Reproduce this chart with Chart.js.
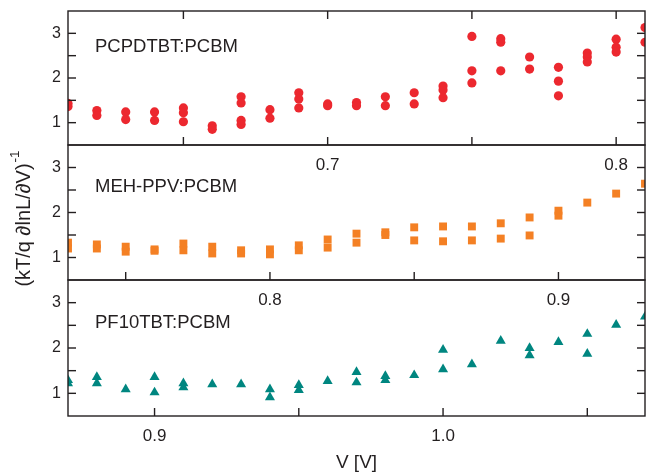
<!DOCTYPE html>
<html>
<head>
<meta charset="utf-8">
<script src="https://cdn.jsdelivr.net/npm/chart.js@4"></script>
<style>
  body { margin: 0; background: #fff; }
  #wrap { position: relative; width: 653px; height: 472px; }
  #wrap canvas { position: absolute; left: 0; top: 0; }
</style>
</head>
<body>
<div id="wrap">
  <canvas id="pcpdtbt" width="653" height="472"></canvas>
  <canvas id="mehppv" width="653" height="472"></canvas>
  <canvas id="pf10tbt" width="653" height="472"></canvas>
</div>
<script>
// voltages and the (kT/q dlnL/dV)^-1 values measured at each one
const voltsPCPDTBT = [0.61, 0.62, 0.63, 0.64, 0.65, 0.66, 0.67, 0.68, 0.69, 0.70, 0.71,
                      0.72, 0.73, 0.74, 0.75, 0.76, 0.77, 0.78, 0.79, 0.80, 0.81];
const valsPCPDTBT = [
  [1.43, 1.36], [1.27, 1.16], [1.24, 1.07], [1.24, 1.05], [1.33, 1.22, 1.02],
  [0.93, 0.85], [1.58, 1.44, 1.05, 0.96], [1.29, 1.10], [1.67, 1.53, 1.33],
  [1.42, 1.38], [1.45, 1.38], [1.58, 1.38], [1.67, 1.42], [1.82, 1.73, 1.56],
  [2.93, 2.16, 1.89], [2.88, 2.80, 2.16], [2.47, 2.20], [2.24, 1.93, 1.60],
  [2.56, 2.47, 2.36], [2.87, 2.69, 2.58], [3.13, 2.80]
];

const voltsMEHPPV = [0.73, 0.74, 0.75, 0.76, 0.77, 0.78, 0.79, 0.80, 0.81, 0.82, 0.83,
                     0.84, 0.85, 0.86, 0.87, 0.88, 0.89, 0.90, 0.91, 0.92, 0.93];
const valsMEHPPV = [
  [1.33, 1.20], [1.29, 1.20], [1.24, 1.13], [1.18, 1.15], [1.31, 1.16],
  [1.24, 1.09], [1.16, 1.09], [1.18, 1.07], [1.27, 1.16], [1.40, 1.22],
  [1.53, 1.33], [1.56, 1.50], [1.67, 1.38], [1.69, 1.36], [1.69, 1.38],
  [1.76, 1.42], [1.89, 1.49], [2.04, 1.93], [2.22], [2.42], [2.64]
];

const voltsPF10TBT = [0.87, 0.88, 0.89, 0.90, 0.91, 0.92, 0.93, 0.94, 0.95, 0.96, 0.97,
                      0.98, 0.99, 1.00, 1.01, 1.02, 1.03, 1.04, 1.05, 1.06, 1.07];
const valsPF10TBT = [
  [1.29, 1.22], [1.36, 1.22], [1.09], [1.36, 1.02], [1.22, 1.13], [1.20], [1.20],
  [1.09, 0.91], [1.18, 1.07], [1.27], [1.47, 1.24], [1.38, 1.29], [1.40],
  [1.96, 1.53], [1.64], [2.16], [2.00, 1.84], [2.13], [2.31, 1.87], [2.51], [2.69]
];

// axis ranges, labelled ticks and tick marks
const xRangePCPDTBT = [0.61, 0.81];
const xRangeMEHPPV = [0.73, 0.93];
const xRangePF10TBT = [0.87, 1.07];
const xLabelsPCPDTBT = [0.7, 0.8];
const xLabelsMEHPPV = [0.8, 0.9];
const xLabelsPF10TBT = [0.9, 1.0];
const xMarksPCPDTBT = [0.65, 0.70, 0.75, 0.80];
const xMarksMEHPPV = [0.75, 0.80, 0.85, 0.90];
const xMarksPF10TBT = [0.90, 0.95, 1.00, 1.05];
const yRange = [0.5, 3.5];
const yLabels = [1, 2, 3];
const yMarks = [1, 1.5, 2, 2.5, 3];

const INK = '#231f20';
const FONT = "'Liberation Sans', Arial, sans-serif";
const W = 653, H = 472, LEFT = 68, RIGHT = 645;

function toPoints(volts, vals) {
  const pts = [];
  volts.forEach((v, i) => vals[i].forEach(y => pts.push({ x: v, y: y })));
  return pts;
}

// box, inward ticks, sample name and (for the middle panel) the shared y title
function framePlugin(cfg) {
  return {
    id: 'frame',
    afterDatasetsDraw(chart) {
      const { ctx, chartArea: a, scales: { x, y } } = chart;
      const len = 8, lw = 1.4;
      ctx.save();
      ctx.strokeStyle = INK;
      ctx.fillStyle = INK;
      ctx.lineWidth = lw;
      ctx.strokeRect(a.left, a.top, a.right - a.left, a.bottom - a.top);

      // tick marks point into the plot
      cfg.xMarks.forEach(v => {
        const px = x.getPixelForValue(v);
        ctx.fillRect(px - lw / 2, a.bottom - len, lw, len);
        if (cfg.topMarks) ctx.fillRect(px - lw / 2, a.top, lw, len);
      });
      yMarks.forEach(v => {
        const py = y.getPixelForValue(v);
        ctx.fillRect(a.left, py - lw / 2, len, lw);
        ctx.fillRect(a.right - len, py - lw / 2, len, lw);
      });

      ctx.font = '18.5px ' + FONT;
      ctx.textBaseline = 'middle';
      ctx.textAlign = 'left';
      ctx.fillText(cfg.name, a.left + 27, a.top + cfg.nameDy);

      if (cfg.yTitle) {
        const main = '(kT/q \u2202lnL/\u2202V)';
        ctx.translate(24, 225);
        ctx.rotate(-Math.PI / 2);
        ctx.font = '20px ' + FONT;
        ctx.textAlign = 'center';
        ctx.fillText(main, 0, 0);
        const w = ctx.measureText(main).width;
        ctx.font = '13.5px ' + FONT;
        ctx.textAlign = 'left';
        ctx.fillText('-1', w / 2 + 1, -9);
      }
      ctx.restore();
    }
  };
}

function makePanel(id, cfg) {
  const xHeight = cfg.xTitle ? 56 : 40;
  return new Chart(document.getElementById(id), {
    type: 'scatter',
    data: {
      datasets: [{
        data: toPoints(cfg.volts, cfg.vals),
        pointStyle: cfg.style,
        pointRadius: cfg.radius,
        backgroundColor: cfg.color,
        borderColor: cfg.color,
        borderWidth: 0
      }]
    },
    options: {
      responsive: false,
      animation: false,
      events: [],
      layout: {
        padding: { left: 0, right: W - RIGHT, top: cfg.top, bottom: H - cfg.bottom - xHeight }
      },
      scales: {
        x: {
          type: 'linear',
          min: cfg.xRange[0],
          max: cfg.xRange[1],
          grid: { display: false, drawTicks: false },
          border: { display: false },
          afterBuildTicks: s => { s.ticks = cfg.xLabels.map(v => ({ value: v })); },
          afterFit: s => { s.height = xHeight; s.paddingLeft = 0; s.paddingRight = 0; },
          ticks: {
            padding: 10,
            color: INK,
            font: { family: FONT, size: 17 },
            maxRotation: 0,
            callback: v => v.toFixed(1)
          },
          title: {
            display: !!cfg.xTitle,
            text: cfg.xTitle || '',
            color: INK,
            font: { family: FONT, size: 19, lineHeight: 1 },
            padding: 0
          }
        },
        y: {
          type: 'linear',
          min: yRange[0],
          max: yRange[1],
          grid: { display: false, drawTicks: false },
          border: { display: false },
          afterBuildTicks: s => { s.ticks = yLabels.map(v => ({ value: v })); },
          afterFit: s => { s.width = LEFT; s.paddingTop = 0; s.paddingBottom = 0; },
          ticks: {
            padding: 7,
            color: INK,
            font: { family: FONT, size: 16 },
            callback: v => String(v)
          }
        }
      },
      plugins: {
        legend: { display: false },
        tooltip: { enabled: false }
      }
    },
    plugins: [framePlugin(cfg)]
  });
}

makePanel('pcpdtbt', {
  name: 'PCPDTBT:PCBM', nameDy: 36, top: 11, bottom: 145, topMarks: true,
  volts: voltsPCPDTBT, vals: valsPCPDTBT,
  xRange: xRangePCPDTBT, xLabels: xLabelsPCPDTBT, xMarks: xMarksPCPDTBT,
  style: 'circle', radius: 4.6, color: 'rgb(236, 40, 47)'
});

makePanel('mehppv', {
  name: 'MEH-PPV:PCBM', nameDy: 42, top: 145, bottom: 280, yTitle: true,
  volts: voltsMEHPPV, vals: valsMEHPPV,
  xRange: xRangeMEHPPV, xLabels: xLabelsMEHPPV, xMarks: xMarksMEHPPV,
  style: 'rect', radius: 5.6, color: 'rgb(244, 128, 36)'
});

makePanel('pf10tbt', {
  name: 'PF10TBT:PCBM', nameDy: 43, top: 280, bottom: 416, xTitle: 'V [V]',
  volts: voltsPF10TBT, vals: valsPF10TBT,
  xRange: xRangePF10TBT, xLabels: xLabelsPF10TBT, xMarks: xMarksPF10TBT,
  style: 'triangle', radius: 5.8, color: 'rgb(0, 134, 128)'
});
</script>
</body>
</html>
